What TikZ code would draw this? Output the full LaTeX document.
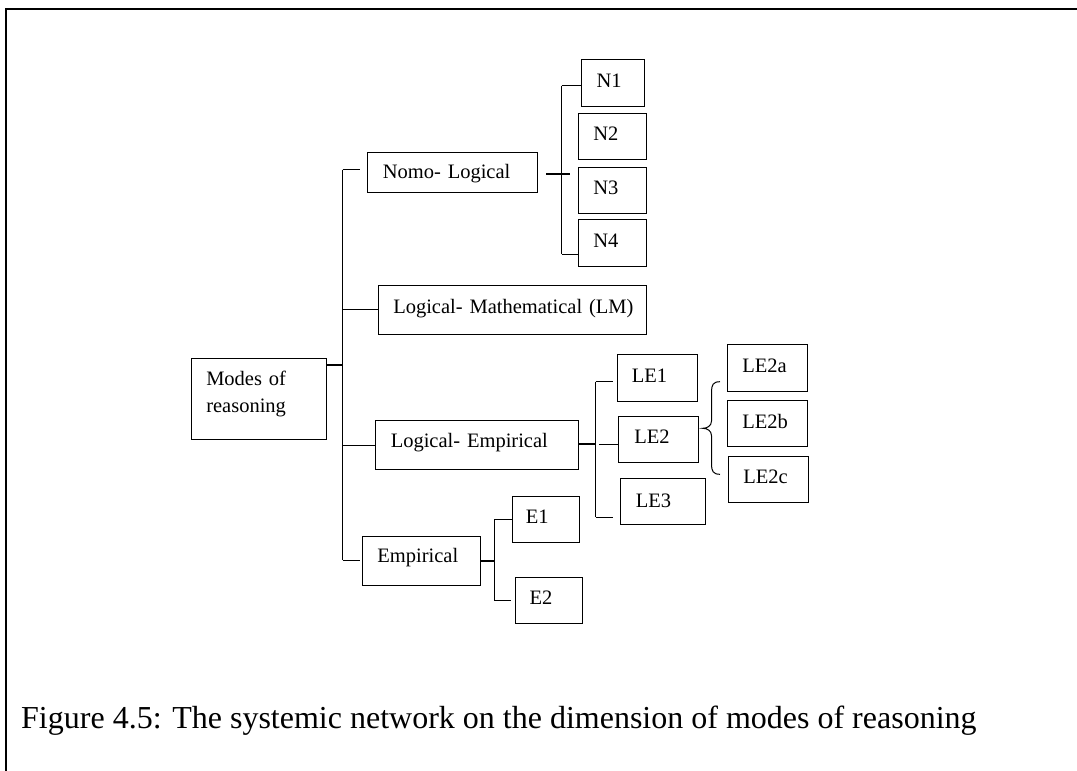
\documentclass[tikz,border=0pt]{standalone}
\usepackage{fontspec}
\setmainfont{Liberation Serif}
\usetikzlibrary{calc}

% box: #1 name, #2 x, #3 y (top-left corner), #4 width, #5 height,
% #6 left padding, #7 baseline depth below the top edge, #8 text
\newcommand{\netbox}[8]{%
  \node[netbox, text width=#4pt, text height=#7pt, text depth={#5pt-#7pt}]
    (#1) at (#2,#3) {\hspace*{#6pt}#8};}

\begin{document}
\begin{tikzpicture}[x=1pt, y=-1pt,
  netbox/.style={draw, line width=1.1pt, anchor=north west, inner xsep=0pt,
    inner ysep=0pt, align=left, font=\fontsize{20.5}{26.7}\selectfont},
  link/.style={line width=1pt},
  heavylink/.style={line width=2pt}]

\useasboundingbox (0,0) rectangle (1077,771);

% page frame
\draw[line width=2pt] (6,771) -- (6,9) -- (1077,9);

% boxes
\netbox{modes}{191.2}{358}{135.1}{81.3}{14.5}{27}{Modes of\\\hspace*{14.5pt}reasoning}
\netbox{nomo}{367.3}{151.7}{169.4}{40}{15}{26.6}{Nomo- Logical}
\netbox{lm}{377.7}{284.7}{268.6}{49}{15}{28.3}{Logical- Mathematical (LM)}
\netbox{le}{375.3}{420.3}{202.5}{49}{14.9}{26.4}{Logical- Empirical}
\netbox{emp}{362.3}{535.7}{117.9}{49}{14.5}{26}{Empirical}
\netbox{e1}{511.6}{495.7}{67.3}{46}{13.7}{27.6}{E1}
\netbox{e2}{514.6}{576.7}{67}{46}{14.4}{27.3}{E2}
\netbox{n1}{580.7}{59.3}{63.3}{46.4}{15.3}{28}{N1}
\netbox{n2}{578.3}{112.7}{68}{46.3}{14.4}{27.3}{N2}
\netbox{n3}{578.3}{167}{68}{46.3}{14.4}{27.3}{N3}
\netbox{n4}{578.3}{219.3}{68}{46.4}{14.4}{27.4}{N4}
\netbox{le1}{617.3}{354.3}{79.4}{46.4}{14}{28}{LE1}
\netbox{le2}{618}{415.7}{79.7}{46.3}{15.7}{27.6}{LE2}
\netbox{le3}{620.3}{478.3}{84.4}{46}{15}{28.4}{LE3}
\netbox{le2a}{726.7}{344.3}{80.3}{46.4}{15}{27.4}{LE2a}
\netbox{le2b}{726.7}{400}{80.3}{46}{15}{28.3}{LE2b}
\netbox{le2c}{727.7}{455.7}{80}{46}{15}{27.6}{LE2c}

% main system: Modes of reasoning
\coordinate (tT) at (342.5,169.5);
\coordinate (tB) at (342.5,560);
\draw[link] (tT) -- (tB);
\draw[heavylink] ([yshift=-6.7pt]modes.north east) -- ([yshift=-6.7pt]modes.north east -| tT);
\draw[link] (tT) -- ([xshift=-7pt]nomo.west |- tT);
\draw[link] (lm.west) -- (lm.west -| tT);
\draw[link] (le.west) -- (le.west -| tT);
\draw[link] (tB) -- ([xshift=-2.7pt]emp.west |- tB);

% Nomo- Logical options
\coordinate (nT) at (561.7,85.7);
\coordinate (nB) at (561.7,254);
\draw[link] (nT) -- (nB);
\draw[heavylink] ([xshift=8.3pt,yshift=-1.7pt]nomo.east) -- ([xshift=8.3pt,yshift=-1.7pt]nomo.east -| nT);
\draw[link] (nT) -- (nT -| n1.west);
\draw[link] (nB) -- (nB -| n4.west);

% Logical- Empirical options
\coordinate (lT) at (595.5,381.7);
\coordinate (lB) at (595.5,517.3);
\draw[link] (lT) -- (lB);
\draw[heavylink] ([yshift=0.9pt]le.east) -- ([yshift=0.9pt]le.east -| lT);
\draw[link] ([yshift=0.9pt]le.east -| lT) ++(3.5,0) -- ([yshift=0.9pt]le.east -| le2.west);
\draw[link] (lT) -- ([xshift=-4.3pt]le1.west |- lT);
\draw[link] (lB) -- ([xshift=-7.3pt]le3.west |- lB);

% brace grouping LE2a, LE2b, LE2c
\draw[link] (720,381.7) .. controls (713,381.7) and (711.5,385) .. (711.5,392)
  -- (711.5,421) .. controls (711.5,426) and (707,428.3) .. (702.7,428.3)
  .. controls (707,428.3) and (711.5,430.6) .. (711.5,435.6)
  -- (711.5,464) .. controls (711.5,471) and (713,474.3) .. (720,474.3);

% Empirical options
\coordinate (eT) at (494.7,519.3);
\coordinate (eB) at (494.7,600.7);
\draw[link] (eT) -- (eB);
\draw[heavylink] (emp.east) -- (emp.east -| eT);
\draw[link] (eT) -- (eT -| e1.west);
\draw[link] (eB) -- ([xshift=-3.8pt]e2.west |- eB);

% caption
\node[anchor=base west, inner sep=0pt, font=\fontsize{32}{38}\selectfont] (caption) at (21,728)
  {Figure 4.5: The systemic network on the dimension of modes of reasoning};

\end{tikzpicture}
\end{document}
